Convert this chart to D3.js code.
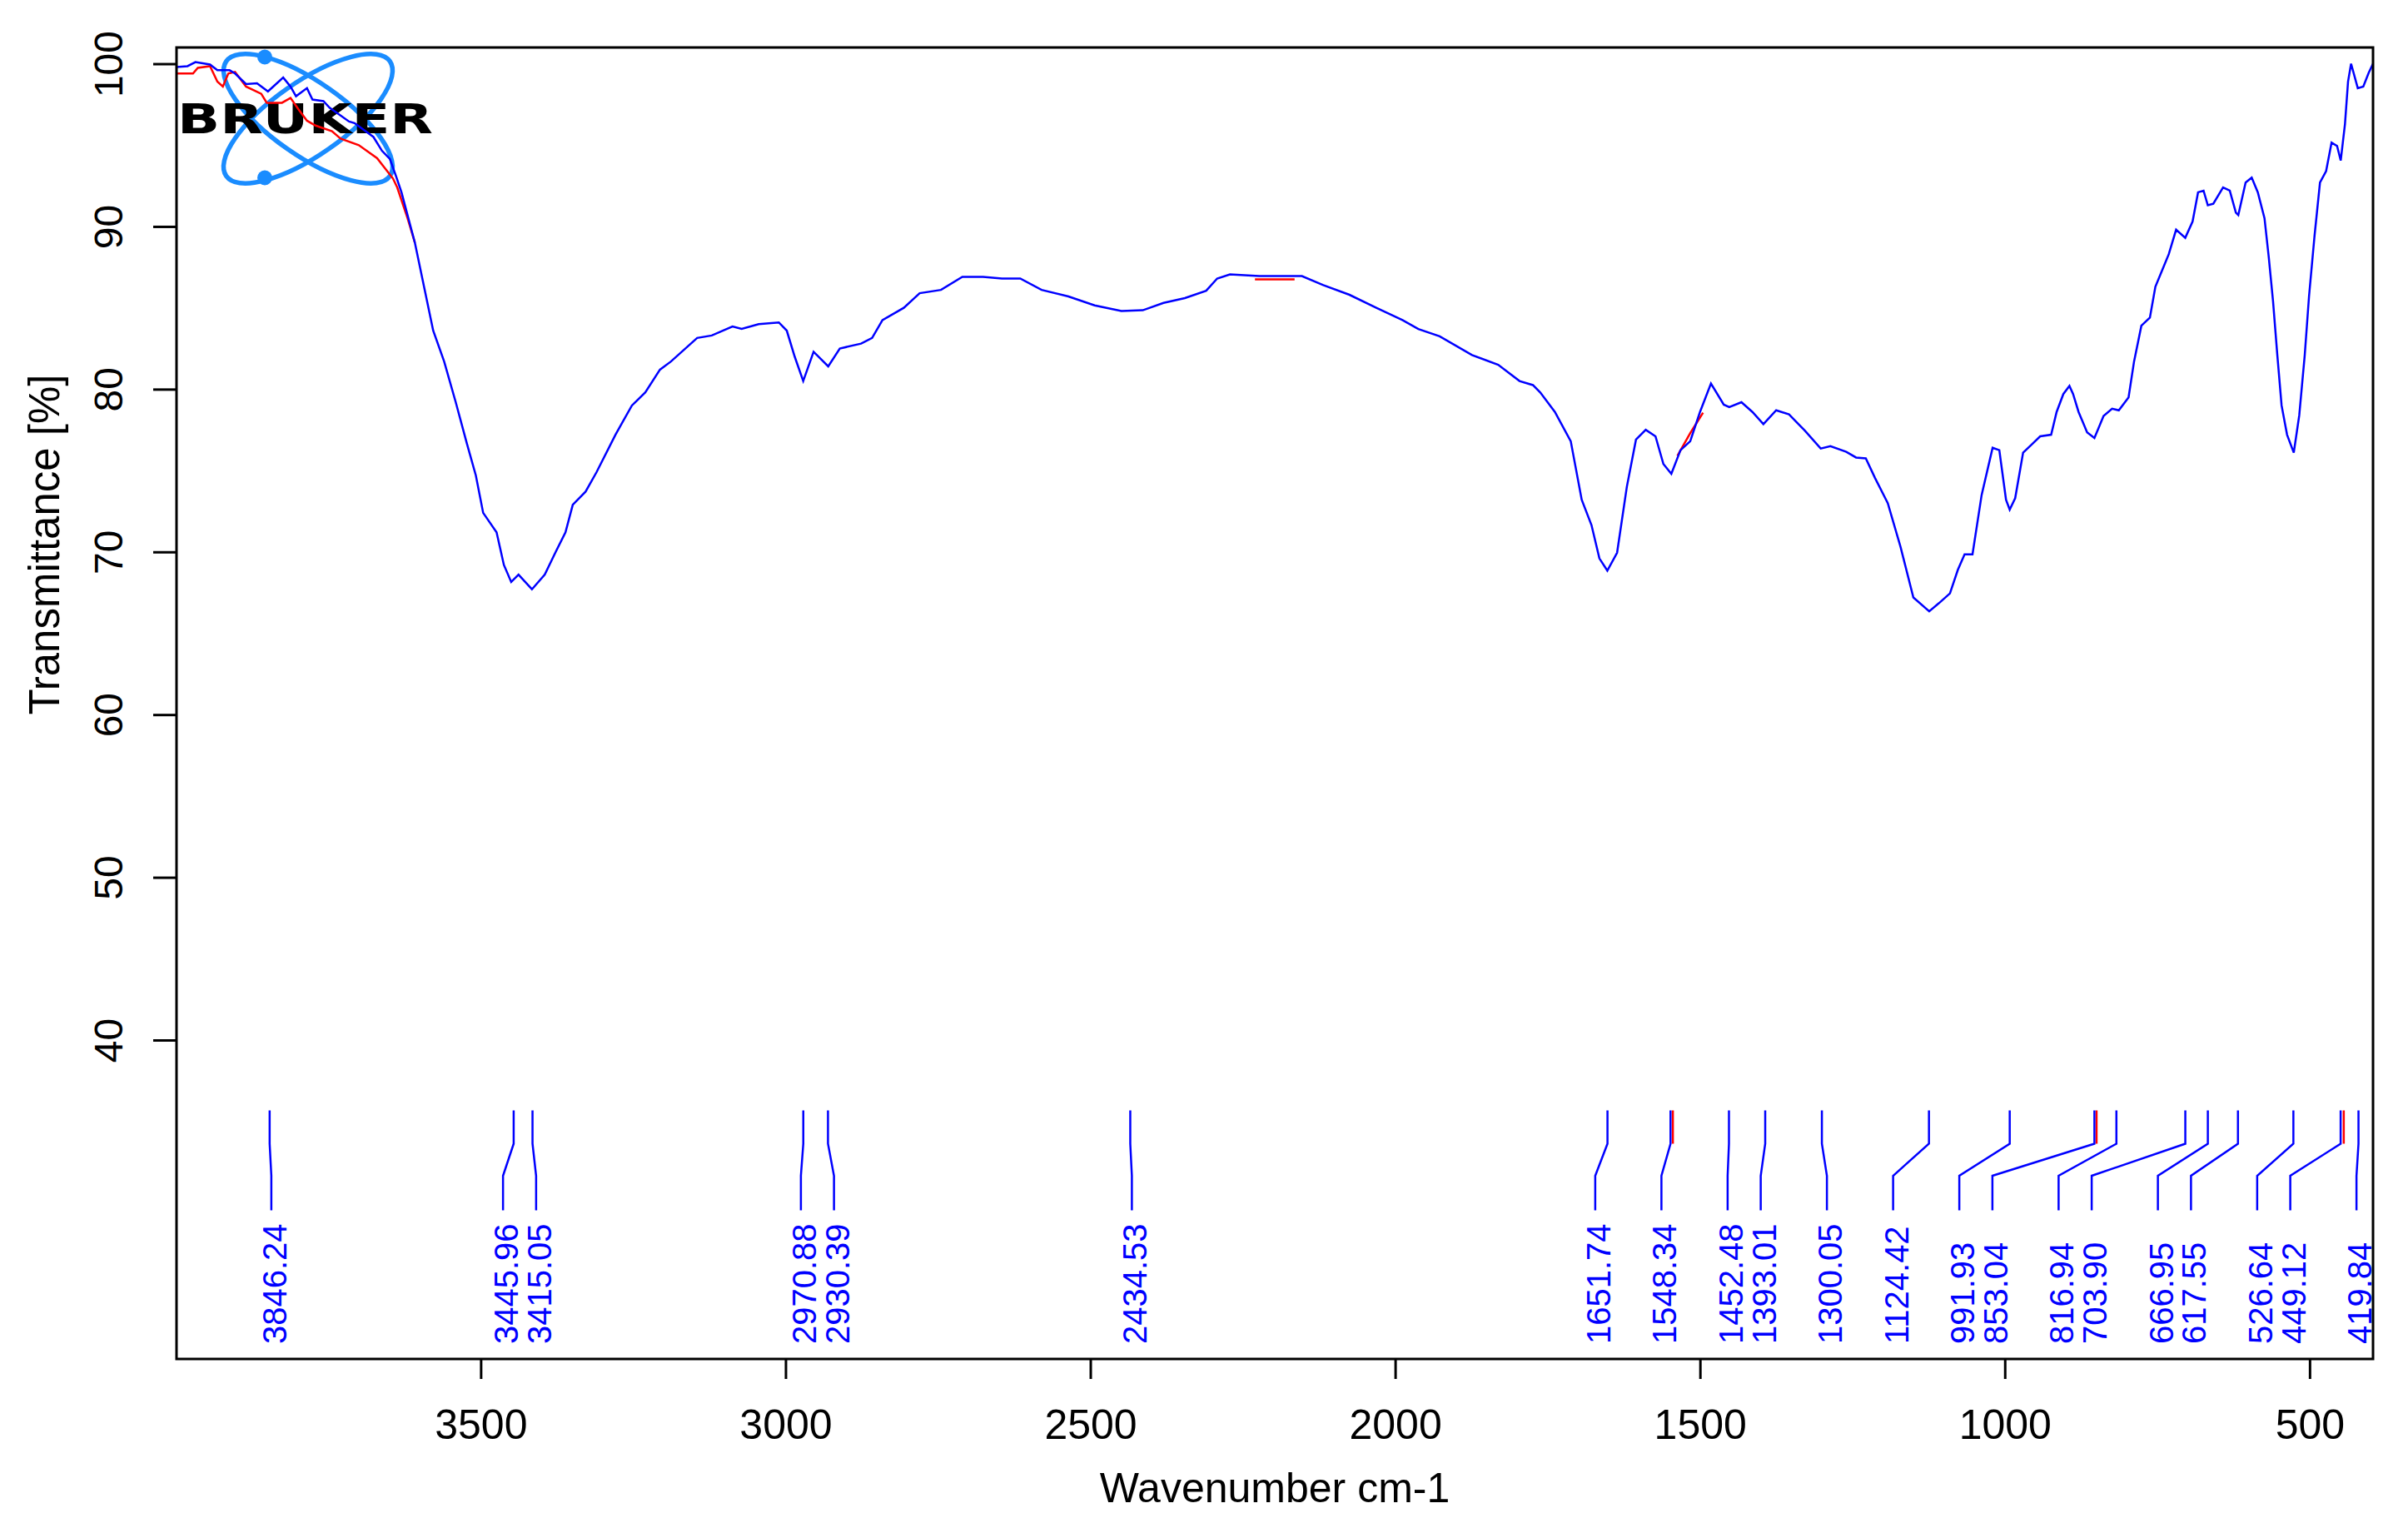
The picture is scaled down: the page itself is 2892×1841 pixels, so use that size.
<!DOCTYPE html>
<html>
<head>
<meta charset="utf-8">
<script src="https://cdn.jsdelivr.net/npm/d3@7"></script>
<style>
  body { margin: 0; background: #fff; }
  text { font-family: "Liberation Sans", Arial, sans-serif; }
</style>
</head>
<body>
<svg id="chart"></svg>
<script>
// IR spectrum (blue trace)
const wavenumber = [3999, 3981, 3968, 3944, 3932, 3912, 3903, 3885, 3867, 3849, 3824, 3812, 3803, 3785, 3776, 3758, 3748, 3716, 3707, 3676,
  3662, 3649, 3639, 3630, 3608, 3593, 3578, 3560, 3541, 3523, 3508, 3496, 3474, 3462, 3450, 3438, 3416, 3395, 3377, 3361,
  3349, 3328, 3310, 3279, 3252, 3230, 3206, 3188, 3145, 3121, 3087, 3072, 3044, 3011, 2998, 2985, 2971, 2954, 2930, 2911,
  2876, 2858, 2841, 2806, 2780, 2745, 2710, 2676, 2645, 2615, 2580, 2536, 2493, 2449, 2414, 2380, 2345, 2310, 2292, 2271,
  2223, 2153, 2118, 2075, 2031, 1988, 1962, 1927, 1874, 1831, 1796, 1774, 1762, 1738, 1712, 1694, 1678, 1665, 1652, 1636,
  1620, 1605, 1589, 1573, 1560, 1547, 1532, 1516, 1500, 1482, 1461, 1452, 1432, 1414, 1396, 1375, 1354, 1328, 1302, 1286,
  1260, 1244, 1228, 1213, 1192, 1171, 1150, 1124, 1108, 1090, 1077, 1066, 1053, 1038, 1020, 1009, 998, 992, 983, 970,
  956, 942, 924, 915, 904, 894, 888, 879, 865, 853, 838, 824, 813, 797, 788, 776, 762, 753, 742, 731,
  719, 704, 692, 683, 674, 667, 658, 642, 631, 621, 617, 605, 595, 585, 574, 567, 560, 553, 546, 537,
  526, 517, 508, 501, 492, 483, 473, 464, 455, 449, 442, 437, 432, 421, 412, 403, 396];
const transmittance = [99.8, 99.85, 100.1, 99.95, 99.6, 99.6, 99.4, 98.75, 98.8, 98.3, 99.15, 98.6, 98.0, 98.5, 97.8, 97.7, 97.3, 96.45, 96.35, 95.5,
  94.65, 94.15, 93.1, 92.1, 89.0, 86.3, 83.6, 81.7, 79.2, 76.7, 74.7, 72.4, 71.2, 69.2, 68.15, 68.6, 67.7, 68.6, 70.0, 71.2,
  72.9, 73.7, 74.9, 77.2, 79.0, 79.8, 81.2, 81.7, 83.15, 83.3, 83.85, 83.7, 84.0, 84.1, 83.6, 82.0, 80.5, 82.3, 81.4, 82.5,
  82.8, 83.15, 84.25, 85.0, 85.9, 86.1, 86.9, 86.9, 86.8, 86.8, 86.1, 85.7, 85.15, 84.8, 84.85, 85.3, 85.6, 86.05, 86.8, 87.05,
  86.95, 86.95, 86.4, 85.8, 85.0, 84.25, 83.7, 83.25, 82.1, 81.5, 80.5, 80.25, 79.8, 78.6, 76.8, 73.2, 71.65, 69.6, 68.85, 69.95,
  74.0, 76.9, 77.5, 77.1, 75.4, 74.8, 76.25, 76.8, 78.6, 80.35, 79.05, 78.9, 79.2, 78.6, 77.85, 78.7, 78.45, 77.45, 76.35, 76.5,
  76.15, 75.8, 75.75, 74.55, 73.0, 70.3, 67.2, 66.35, 66.85, 67.45, 68.9, 69.85, 69.85, 73.5, 76.4, 76.25, 73.2, 72.6, 73.3, 76.1,
  76.6, 77.1, 77.2, 78.6, 79.7, 80.2, 79.7, 78.6, 77.35, 77.0, 78.35, 78.8, 78.7, 79.5, 81.7, 83.9, 84.4, 86.3, 87.3, 88.3,
  89.8, 89.3, 90.3, 92.1, 92.2, 91.3, 91.4, 92.4, 92.2, 90.85, 90.7, 92.7, 93.0, 92.1, 90.5, 88.1, 85.4, 82.1, 79.0, 77.2,
  76.1, 78.4, 82.1, 85.7, 89.4, 92.7, 93.4, 95.15, 94.95, 94.05, 96.3, 98.9, 100.0, 98.5, 98.6, 99.45, 100.0];

// second (red) trace, only where it shows from under the blue one; null = gap
const redWavenumber = [3999, 3972, 3964, 3944, 3932, 3923, 3914, 3903, 3885, 3860, 3851, 3826, 3812, 3799, 3785, 3771, 3744, 3730, 3700, 3670,
  3644, 3637, 3620, 3608, null, 2230, 2165, null, 1537, 1516, 1495];
const redTransmittance = [99.4, 99.4, 99.75, 99.85, 98.9, 98.6, 99.4, 99.5, 98.6, 98.15, 97.6, 97.6, 97.9, 97.2, 96.5, 96.2, 95.85, 95.4, 95.0, 94.2,
  92.95, 92.4, 90.5, 89.0, null, 86.75, 86.75, null, 75.9, 77.3, 78.55];

// picked peaks
const peaks = [3846.24, 3445.96, 3415.05, 2970.88, 2930.39, 2434.53, 1651.74, 1548.34, 1452.48, 1393.01, 1300.05,
  1124.42, 991.93, 853.04, 816.94, 703.90, 666.95, 617.55, 526.64, 449.12, 419.84];
const redPeaks = [1544.5, 849.5, 444.0];

const xTicks = [3500, 3000, 2500, 2000, 1500, 1000, 500];
const yTicks = [40, 50, 60, 70, 80, 90, 100];

const W = 2892, H = 1841;
const box = { left: 212, right: 2850, top: 57, bottom: 1632 };

const svg = d3.select("#chart").attr("width", W).attr("height", H);
svg.append("rect").attr("width", W).attr("height", H).attr("fill", "#fff");

const x = d3.scaleLinear().domain([3999, 396]).range([box.left, box.right]);
const y = d3.scaleLinear().domain([20.4, 101]).range([box.bottom, box.top]);

svg.append("defs").append("clipPath").attr("id", "plot")
  .append("rect")
  .attr("x", box.left).attr("y", box.top)
  .attr("width", box.right - box.left).attr("height", box.bottom - box.top);

// Bruker logo
const logo = svg.append("g");
[35, -35].forEach(a => {
  logo.append("ellipse")
    .attr("cx", 370).attr("cy", 142.5).attr("rx", 120).attr("ry", 44)
    .attr("transform", `rotate(${a},370,142.5)`)
    .attr("fill", "none").attr("stroke", "#1a8cff").attr("stroke-width", 5.5);
});
[68.5, 213.5].forEach(cy => {
  logo.append("circle").attr("cx", 318).attr("cy", cy).attr("r", 9).attr("fill", "#1a8cff");
});
logo.append("text")
  .attr("x", 213).attr("y", 160)
  .attr("textLength", 307).attr("lengthAdjust", "spacingAndGlyphs")
  .style("font-family", "'DejaVu Sans', sans-serif")
  .style("font-weight", "bold").style("font-size", "50px")
  .attr("fill", "#000")
  .text("BRUKER");

// spectra
const line = d3.line()
  .defined(d => d[0] != null)
  .x(d => x(d[0]))
  .y(d => y(d[1]));

const traces = svg.append("g").attr("clip-path", "url(#plot)");
traces.append("path")
  .datum(redWavenumber.map((w, i) => [w, redTransmittance[i]]))
  .attr("d", line)
  .attr("fill", "none").attr("stroke", "#ff0000").attr("stroke-width", 2.5);
traces.append("path")
  .datum(wavenumber.map((w, i) => [w, transmittance[i]]))
  .attr("d", line)
  .attr("fill", "none").attr("stroke", "#0000ff").attr("stroke-width", 2.5);

// peak labels: slots one label wide counted from the right edge,
// least-displacement placement with a minimum gap (pool adjacent violators)
const slot = 39.75, gap = 1.5;
const pk = peaks.map(w => ({ w, px: x(w) })).sort((a, b) => a.w - b.w);
const u = pk.map((p, i) => (box.right - p.px) / slot - 0.5 - gap * i);
const blocks = [];
u.forEach(v => {
  blocks.push({ sum: v, n: 1 });
  while (blocks.length > 1) {
    const b = blocks[blocks.length - 1], a = blocks[blocks.length - 2];
    if (a.sum / a.n <= b.sum / b.n) break;
    a.sum += b.sum; a.n += b.n;
    blocks.pop();
  }
});
const fit = [];
blocks.forEach(b => { for (let j = 0; j < b.n; j++) fit.push(Math.max(0, b.sum / b.n)); });
let prev = -1;
pk.forEach((p, i) => {
  const k = Math.max(Math.round(fit[i] + gap * i + 1e-9), prev + 1);
  p.lx = box.right - (k + 0.5) * slot;
  prev = k;
});

const yTop = 1333.5, yBend1 = 1373.5, yBend2 = 1412, yEnd = 1453.5, yLabel = 1614;

svg.append("g").selectAll("line")
  .data(redPeaks)
  .enter().append("line")
  .attr("x1", d => x(d)).attr("x2", d => x(d))
  .attr("y1", yTop).attr("y2", yBend1)
  .attr("stroke", "#ff0000").attr("stroke-width", 2.5);

svg.append("g").selectAll("path")
  .data(pk)
  .enter().append("path")
  .attr("d", d => `M${d.px},${yTop}V${yBend1}L${d.lx},${yBend2}V${yEnd}`)
  .attr("fill", "none").attr("stroke", "#0000ff").attr("stroke-width", 2.5);

svg.append("g").selectAll("text")
  .data(pk)
  .enter().append("text")
  .attr("transform", d => `translate(${d.lx},${yLabel}) rotate(-90)`)
  .attr("dy", "0.45em")
  .attr("text-anchor", "start")
  .attr("fill", "#0000ff")
  .style("font-size", "40px")
  .text(d => d.w.toFixed(2));

// frame
svg.append("rect")
  .attr("x", box.left).attr("y", box.top)
  .attr("width", box.right - box.left).attr("height", box.bottom - box.top)
  .attr("fill", "none").attr("stroke", "#000").attr("stroke-width", 3);

// axes
const yAxis = svg.append("g")
  .attr("transform", `translate(${box.left},0)`)
  .call(d3.axisLeft(y).tickValues(yTicks).tickSize(28).tickFormat(d3.format("d")));
yAxis.select(".domain").remove();
yAxis.selectAll(".tick line").attr("stroke", "#000").attr("stroke-width", 3);
yAxis.selectAll(".tick text")
  .attr("x", null).attr("dy", null)
  .attr("transform", "translate(-65,0) rotate(-90)")
  .attr("text-anchor", "middle")
  .attr("fill", "#000")
  .style("font-size", "48px");

const xAxis = svg.append("g")
  .attr("transform", `translate(0,${box.bottom})`)
  .call(d3.axisBottom(x).tickValues(xTicks).tickSize(24).tickFormat(d3.format("d")));
xAxis.select(".domain").remove();
xAxis.selectAll(".tick line").attr("stroke", "#000").attr("stroke-width", 3);
xAxis.selectAll(".tick text")
  .attr("y", 96).attr("dy", null)
  .attr("fill", "#000")
  .style("font-size", "50px");

svg.append("text")
  .attr("transform", "translate(71,654) rotate(-90)")
  .attr("text-anchor", "middle")
  .style("font-size", "51px")
  .text("Transmittance [%]");

svg.append("text")
  .attr("x", (box.left + box.right) / 2).attr("y", 1804)
  .attr("text-anchor", "middle")
  .style("font-size", "50px")
  .text("Wavenumber cm-1");
</script>
</body>
</html>
